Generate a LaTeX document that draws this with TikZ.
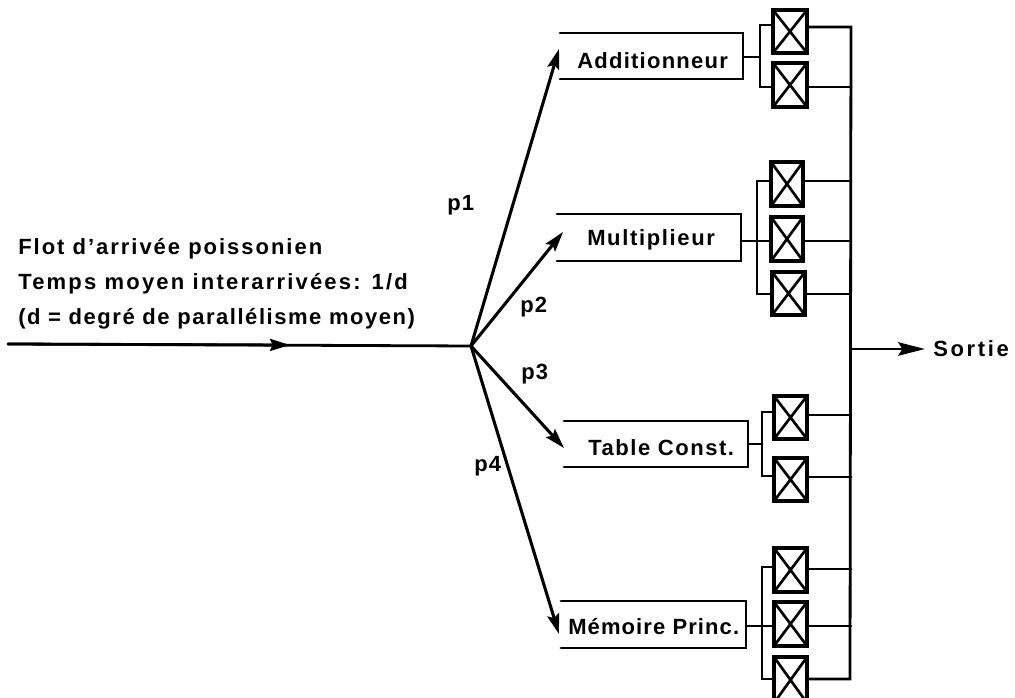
\documentclass[tikz,border=0pt]{standalone}
\usepackage{fontspec}
\setmainfont{Liberation Sans}[BoldFont=*-Bold]
\usetikzlibrary{arrows.meta}
\newcommand{\xcell}[7]{% name,x0,y0,x1,y1,yin,yout
  \node[xcell,minimum width={(#4-#2)*0.75pt},minimum height={(#5-#3)*0.75pt}] (#1) at ({(#2+#4)/2},{(#3+#5)/2}) {};
  \coordinate (#1i) at (#2,#6);
  \coordinate (#1o) at (#4,#7);
}
\newcommand{\unit}[5]{% name,x0,y0,x1,y1
  \node[unit,minimum width={(#4-#2)*0.75pt},minimum height={(#5-#3)*0.75pt}] (#1) at ({(#2+#4)/2},{(#3+#5)/2}) {};
  \draw[wire] (#1.north west) -- (#1.north east) -- (#1.south east) -- (#1.south west);
}
\tikzset{
  x=0.75pt,y=-0.75pt,
  wire/.style={line width=2.1pt,line cap=round,line join=miter},
  fan/.style={line width=2.3pt,-{Stealth[length=15pt,width=9pt,inset=2.5pt]}},
  xcell/.style={draw,line width=2.5pt,inner sep=0pt,outer sep=0pt,
    path picture={\draw[line width=2pt] (path picture bounding box.north west)--(path picture bounding box.south east)
      (path picture bounding box.north east)--(path picture bounding box.south west);}},
  unit/.style={inner sep=0pt,outer sep=0pt},
  lab/.style={anchor=west,inner sep=0pt,font=\fontsize{16.5}{16.5}\selectfont\bfseries\addfontfeatures{LetterSpace=#1}},
  lab/.default=7,
}
\begin{document}
\begin{tikzpicture}
\useasboundingbox (0,0) rectangle (1015,698);
\clip (0,0) rectangle (1015,698);
\fill[white] (0,0) rectangle (1015,698);

% units
\unit{add}{560}{33}{743}{79}
\unit{mul}{557}{214}{741}{261}
\unit{tab}{564}{421}{748}{467}
\unit{mem}{561}{601}{746}{648}

% cells
\xcell{aa}{773}{10}{807}{53}{25}{27}
\xcell{ab}{773}{63}{807}{107}{87}{87}
\xcell{ma}{771}{162}{803}{206}{181}{181}
\xcell{mb}{771}{217}{803}{261}{241}{241}
\xcell{mc}{772}{272}{805}{315}{294}{294}
\xcell{ta}{774}{396}{807}{439}{412}{415}
\xcell{tb}{774}{458}{807}{501}{476}{477}
\xcell{pa}{774}{548}{807}{592}{567}{569}
\xcell{pb}{774}{602}{807}{646}{626}{626}
\xcell{pc}{774}{657}{807}{703}{679}{679}

% buses
\coordinate (ja) at (760,57);
\coordinate (jm) at (757,241);
\coordinate (jt) at (762,444);
\coordinate (jp) at (762,626);
\draw[wire] (add.east |- ja) -- (ja);
\draw[wire] (aai) -| (ja) |- (abi);
\draw[wire] (mul.east |- jm) -- (mbi);
\draw[wire] (mai) -| (jm) |- (mci);
\draw[wire] (tab.east |- jt) -- (jt);
\draw[wire] (tai) -| (jt) |- (tbi);
\draw[wire] (mem.east |- jp) -- (pbi);
\draw[wire] (pai) -| (jp) |- (pci);

% collector
\coordinate (bartop) at (851,27);
\coordinate (barbot) at (850,679);
\coordinate (sj) at (851,349);
\coordinate (st) at (925,349);
\draw[wire] (aao) -- (bartop) -- (barbot) -- (pco);
\foreach \c in {ab,ma,mb,mc,ta,tb,pa,pb}{
  \draw[wire] (\c o) -- (\c o -| bartop);
}
\draw[wire,line cap=butt,-{Stealth[length=20pt,width=10pt,inset=3pt]}] (sj) -- (st);

% fan
\coordinate (fork) at (471,346);
\coordinate (start) at (8,344);
\coordinate (midtip) at (290,345);
\coordinate (pf1) at (559,49);
\coordinate (pf2) at (563,232);
\coordinate (pf3) at (564,448);
\coordinate (pf4) at (559,634);
\draw[wire] (start) -- (fork);
\draw[wire,-{Stealth[length=15pt,width=9pt,inset=2pt]}] (start) -- (midtip);
\draw[fan] (fork) -- (pf1);
\draw[fan] (fork) -- (pf2);
\draw[fan] (fork) -- (pf3);
\draw[fan] (fork) -- (pf4);

% text
\node[lab=9] (t1) at (18,249) {Flot d'arrivée poissonien};
\node[lab=10] (t2) at (18,284) {Temps moyen interarrivées: 1/d};
\node[lab=7] (t3) at (18,319) {(d = degré de parallélisme moyen)};
\node[lab=5] (l1) at (447,205) {p1};
\node[lab=5] (l2) at (520,307) {p2};
\node[lab=5] (l3) at (521,374) {p3};
\node[lab=5] (l4) at (474,466) {p4};
\node[lab=5.7] (tadd) at (577,61) {Additionneur};
\node[lab=7.5] (tmul) at (587,240) {Multiplieur};
\node[lab=7] (ttab) at (588,448) {Table Const.};
\node[lab=5] (tmem) at (568,627) {Mémoire Princ.};
\node[lab=12] (tout) at (933,349) {Sortie};
\end{tikzpicture}
\end{document}
